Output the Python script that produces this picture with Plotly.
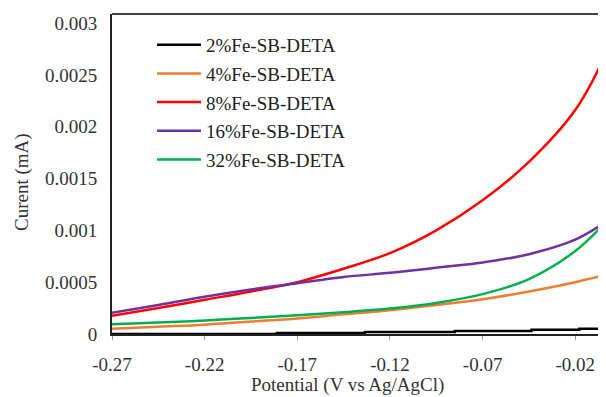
import plotly.graph_objects as go

potential = [-0.27, -0.245, -0.22, -0.195, -0.17, -0.145, -0.12, -0.095, -0.07, -0.045, -0.02, -0.0035]
cur_4 = [0.00005, 0.00007, 0.00009, 0.00012, 0.00015, 0.00019, 0.00023, 0.00028, 0.000335, 0.00041, 0.00050, 0.00057]
cur_8 = [0.000175, 0.00025, 0.00033, 0.00041, 0.00050, 0.00063, 0.00078, 0.00100, 0.00129, 0.00166, 0.00216, 0.00270]
cur_16 = [0.000205, 0.00028, 0.00036, 0.00043, 0.00049, 0.00055, 0.00059, 0.00064, 0.00069, 0.00077, 0.00091, 0.00108]
cur_32 = [0.000095, 0.00011, 0.00013, 0.000155, 0.00018, 0.00021, 0.000245, 0.0003, 0.000385, 0.00053, 0.0008, 0.00108]

potential_2 = [-0.27, -0.181, -0.1335, -0.085, -0.0436, -0.0178, -0.0035]
cur_2 = [0.0, 0.00001, 0.00002, 0.00003, 0.00004, 0.00005, 0.00005]

names = ["2%Fe-SB-DETA", "4%Fe-SB-DETA", "8%Fe-SB-DETA", "16%Fe-SB-DETA", "32%Fe-SB-DETA"]
colors = ["#000000", "#ED7D31", "#FF0000", "#7030A0", "#00B050"]

x_ticks = [-0.27, -0.22, -0.17, -0.12, -0.07, -0.02]
x_ticklabels = ["-0.27", "-0.22", "-0.17", "-0.12", "-0.07", "-0.02"]
y_ticks = [0, 0.0005, 0.001, 0.0015, 0.002, 0.0025, 0.003]
y_ticklabels = ["0", "0.0005", "0.001", "0.0015", "0.002", "0.0025", "0.003"]

fig = go.Figure()
fig.add_trace(go.Scatter(x=potential_2, y=cur_2, mode="lines", name=names[0],
                         line=dict(color=colors[0], width=2.5, shape="hv"), legendgroup="a"))
series = [cur_4, cur_8, cur_16, cur_32]
for i, s in enumerate(series):
    fig.add_trace(go.Scatter(x=potential, y=s, mode="lines", name=names[i + 1],
                             line=dict(color=colors[i + 1], width=2.5, shape="spline", smoothing=1.0),
                             legendgroup="g%d" % i))

font = "Liberation Serif"
fs = 19
fig.update_layout(
    width=598, height=389,
    margin=dict(l=104, r=0, t=6, b=63),
    paper_bgcolor="white", plot_bgcolor="white",
    font=dict(family=font, size=fs, color="#333333"),
    showlegend=True,
    legend=dict(x=0.081, y=0.963, xanchor="left", yanchor="top",
                bgcolor="rgba(0,0,0,0)", font=dict(family=font, size=fs, color="#222222"),
                tracegroupgap=1, traceorder="grouped", itemwidth=44),
    xaxis=dict(range=[-0.27, -0.0034], tickvals=x_ticks, ticktext=x_ticklabels,
               showgrid=False, zeroline=False, showline=True, linecolor="#222222", linewidth=2,
               ticks="outside", ticklen=4, tickcolor="#999999", automargin=False,
               ticklabelstandoff=8,
               tickfont=dict(family=font, size=fs, color="#333333")),
    yaxis=dict(range=[0, 0.003087], tickvals=y_ticks, ticktext=y_ticklabels,
               showgrid=False, zeroline=False, showline=True, linecolor="#222222", linewidth=2,
               ticks="", automargin=False, ticklabelstandoff=9,
               tickfont=dict(family=font, size=fs, color="#333333")),
    annotations=[
        dict(text="Potential (V vs Ag/AgCl)", xref="paper", yref="paper", x=(347 - 112) / 494,
             y=-(385 - 334) / 320, xanchor="center", yanchor="middle", showarrow=False,
             font=dict(family=font, size=fs, color="#333333")),
        dict(text="Curent (mA)", xref="paper", yref="paper", x=-(112 - 22) / 494,
             y=(334 - 182) / 320, xanchor="center", yanchor="middle", showarrow=False, textangle=-90,
             font=dict(family=font, size=fs, color="#333333")),
    ],
)
fig.add_shape(type="line", xref="paper", yref="paper", x0=0, x1=1, y0=1, y1=1,
              line=dict(color="#444444", width=2))

fig.write_html("out.html")
